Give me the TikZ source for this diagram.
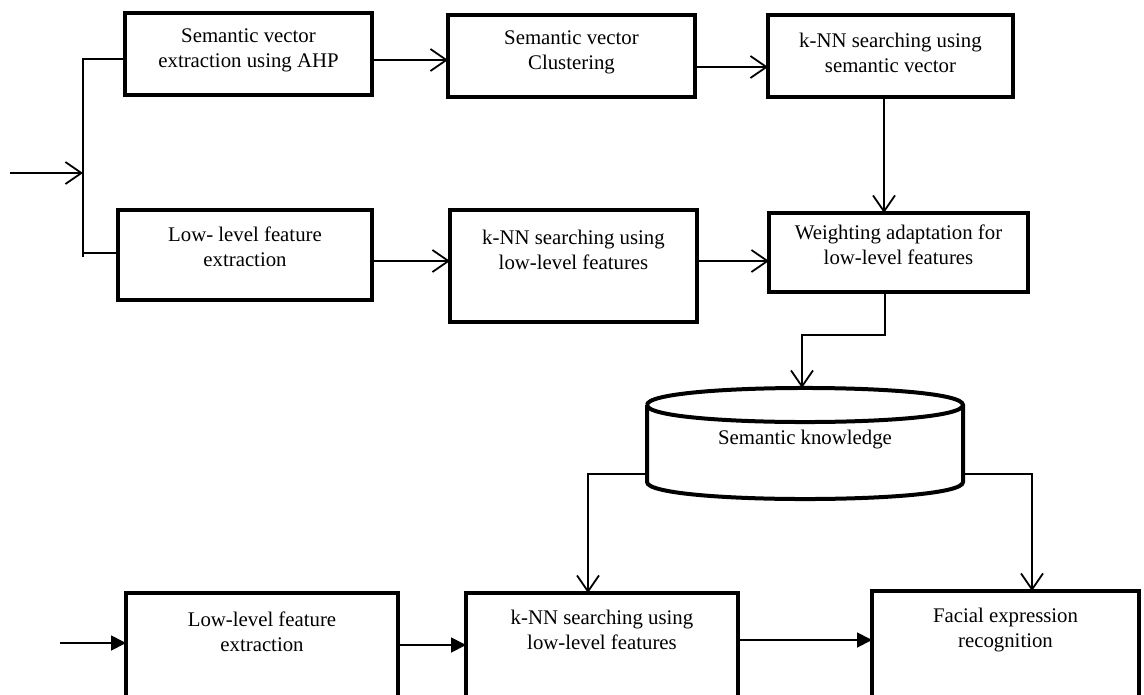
\documentclass[tikz,border=0pt]{standalone}
\usepackage{fontspec}
\setmainfont{Liberation Serif}
\usetikzlibrary{arrows.meta}
\begin{document}
\begin{tikzpicture}[x=1pt,y=-1pt,
  box/.style={draw,line width=4.5pt,rectangle,inner sep=0pt,outer sep=0pt},
  txt/.style={align=center,font=\fontsize{20.8}{25}\selectfont,inner sep=0pt},
  conn/.style={line width=1.8pt},
  open/.style={conn,-{Straight Barb[length=16pt,width=22pt]}},
  solid/.style={conn,-{Triangle[length=15pt,width=15pt]}}]
\useasboundingbox (0,0) rectangle (1144,694);
\clip (0,0) rectangle (1144,694);
\fill[white] (0,0) rectangle (1144,694);

% boxes
\node[box,minimum width=247pt,minimum height=82pt] (A) at (248.5,54) {};
\node[box,minimum width=247pt,minimum height=82pt] (B) at (571.5,56) {};
\node[box,minimum width=245pt,minimum height=82pt] (C) at (890.5,56) {};
\node[box,minimum width=254pt,minimum height=90pt] (D) at (245,255) {};
\node[box,minimum width=247pt,minimum height=112pt] (E) at (573.5,266) {};
\node[box,minimum width=259pt,minimum height=79pt] (F) at (898.5,252.5) {};
\node[box,minimum width=272pt,minimum height=127pt] (G) at (262,656.5) {};
\node[box,minimum width=272pt,minimum height=127pt] (H) at (602,656.5) {};
\node[box,minimum width=267pt,minimum height=129pt] (I) at (1005.5,655.5) {};

% texts
\node[txt] (tA) at (248.5,50) {Semantic vector\\extraction using AHP};
\node[txt] (tB) at (571.5,52) {Semantic vector\\Clustering};
\node[txt] (tC) at (890.5,53) {k-NN searching using\\semantic vector};
\node[txt] (tD) at (245,247) {Low- level feature\\extraction};
\node[txt] (tE) at (573.5,250) {k-NN searching using\\low-level features};
\node[txt] (tF) at (898.5,245) {Weighting adaptation for\\low-level features};
\node[txt] (tG) at (262,632) {Low-level feature\\extraction};
\node[txt] (tH) at (602,630) {k-NN searching using\\low-level features};
\node[txt] (tI) at (1005.5,630) {Facial expression\\recognition};

% cylinder
\draw[line width=4pt,fill=white] (647,405) -- (647,482) .. controls (647,504.7) and (963,504.7) .. (963,482) -- (963,405);
\draw[line width=4pt] (647,405) .. controls (647,382.3) and (963,382.3) .. (963,405) .. controls (963,427.7) and (647,427.7) .. (647,405);
\node[txt] (K) at (805,440) {Semantic knowledge};
\coordinate (Ktop) at (802,388);
\coordinate (Kl) at (647,474);
\coordinate (Kr) at (963,474);

% input branch
\coordinate (in1) at (10,173);
\coordinate (jIn) at (83,173);
\coordinate (bT) at (83,59);
\coordinate (bB) at (83,257);
\coordinate (bD) at (83,253);
\draw[open] (in1) -- (jIn);
\draw[conn] (A.west |- bT) -- (bT) -- (bB);
\draw[conn] (bD) -- (D.west |- bD);

% top row
\coordinate (yAB) at (0,60);
\coordinate (yBC) at (0,67);
\coordinate (xCF) at (884,0);
\coordinate (yDE) at (0,261);
\draw[open] (A.east |- yAB) -- (B.west |- yAB);
\draw[open] (B.east |- yBC) -- (C.west |- yBC);
\draw[open] (C.south -| xCF) -- (F.north -| xCF);
\draw[open] (D.east |- yDE) -- (E.west |- yDE);
\draw[open] (E.east |- yDE) -- (F.west |- yDE);

% F to cylinder
\coordinate (f1) at (885,335);
\coordinate (f2) at (802,335);
\draw[open] (F.south -| f1) -- (f1) -- (f2) -- (Ktop);

% cylinder to bottom
\coordinate (h1) at (588,474);
\coordinate (i1) at (1032,474);
\draw[open] (Kl) -- (h1) -- (H.north -| h1);
\draw[open] (Kr) -- (i1) -- (I.north -| i1);

% bottom row
\coordinate (in2) at (60,643);
\coordinate (yGH) at (0,645);
\coordinate (yHI) at (0,640);
\draw[solid] (in2) -- (G.west |- in2);
\draw[solid] (G.east |- yGH) -- (H.west |- yGH);
\draw[solid] (H.east |- yHI) -- (I.west |- yHI);
\end{tikzpicture}
\end{document}
